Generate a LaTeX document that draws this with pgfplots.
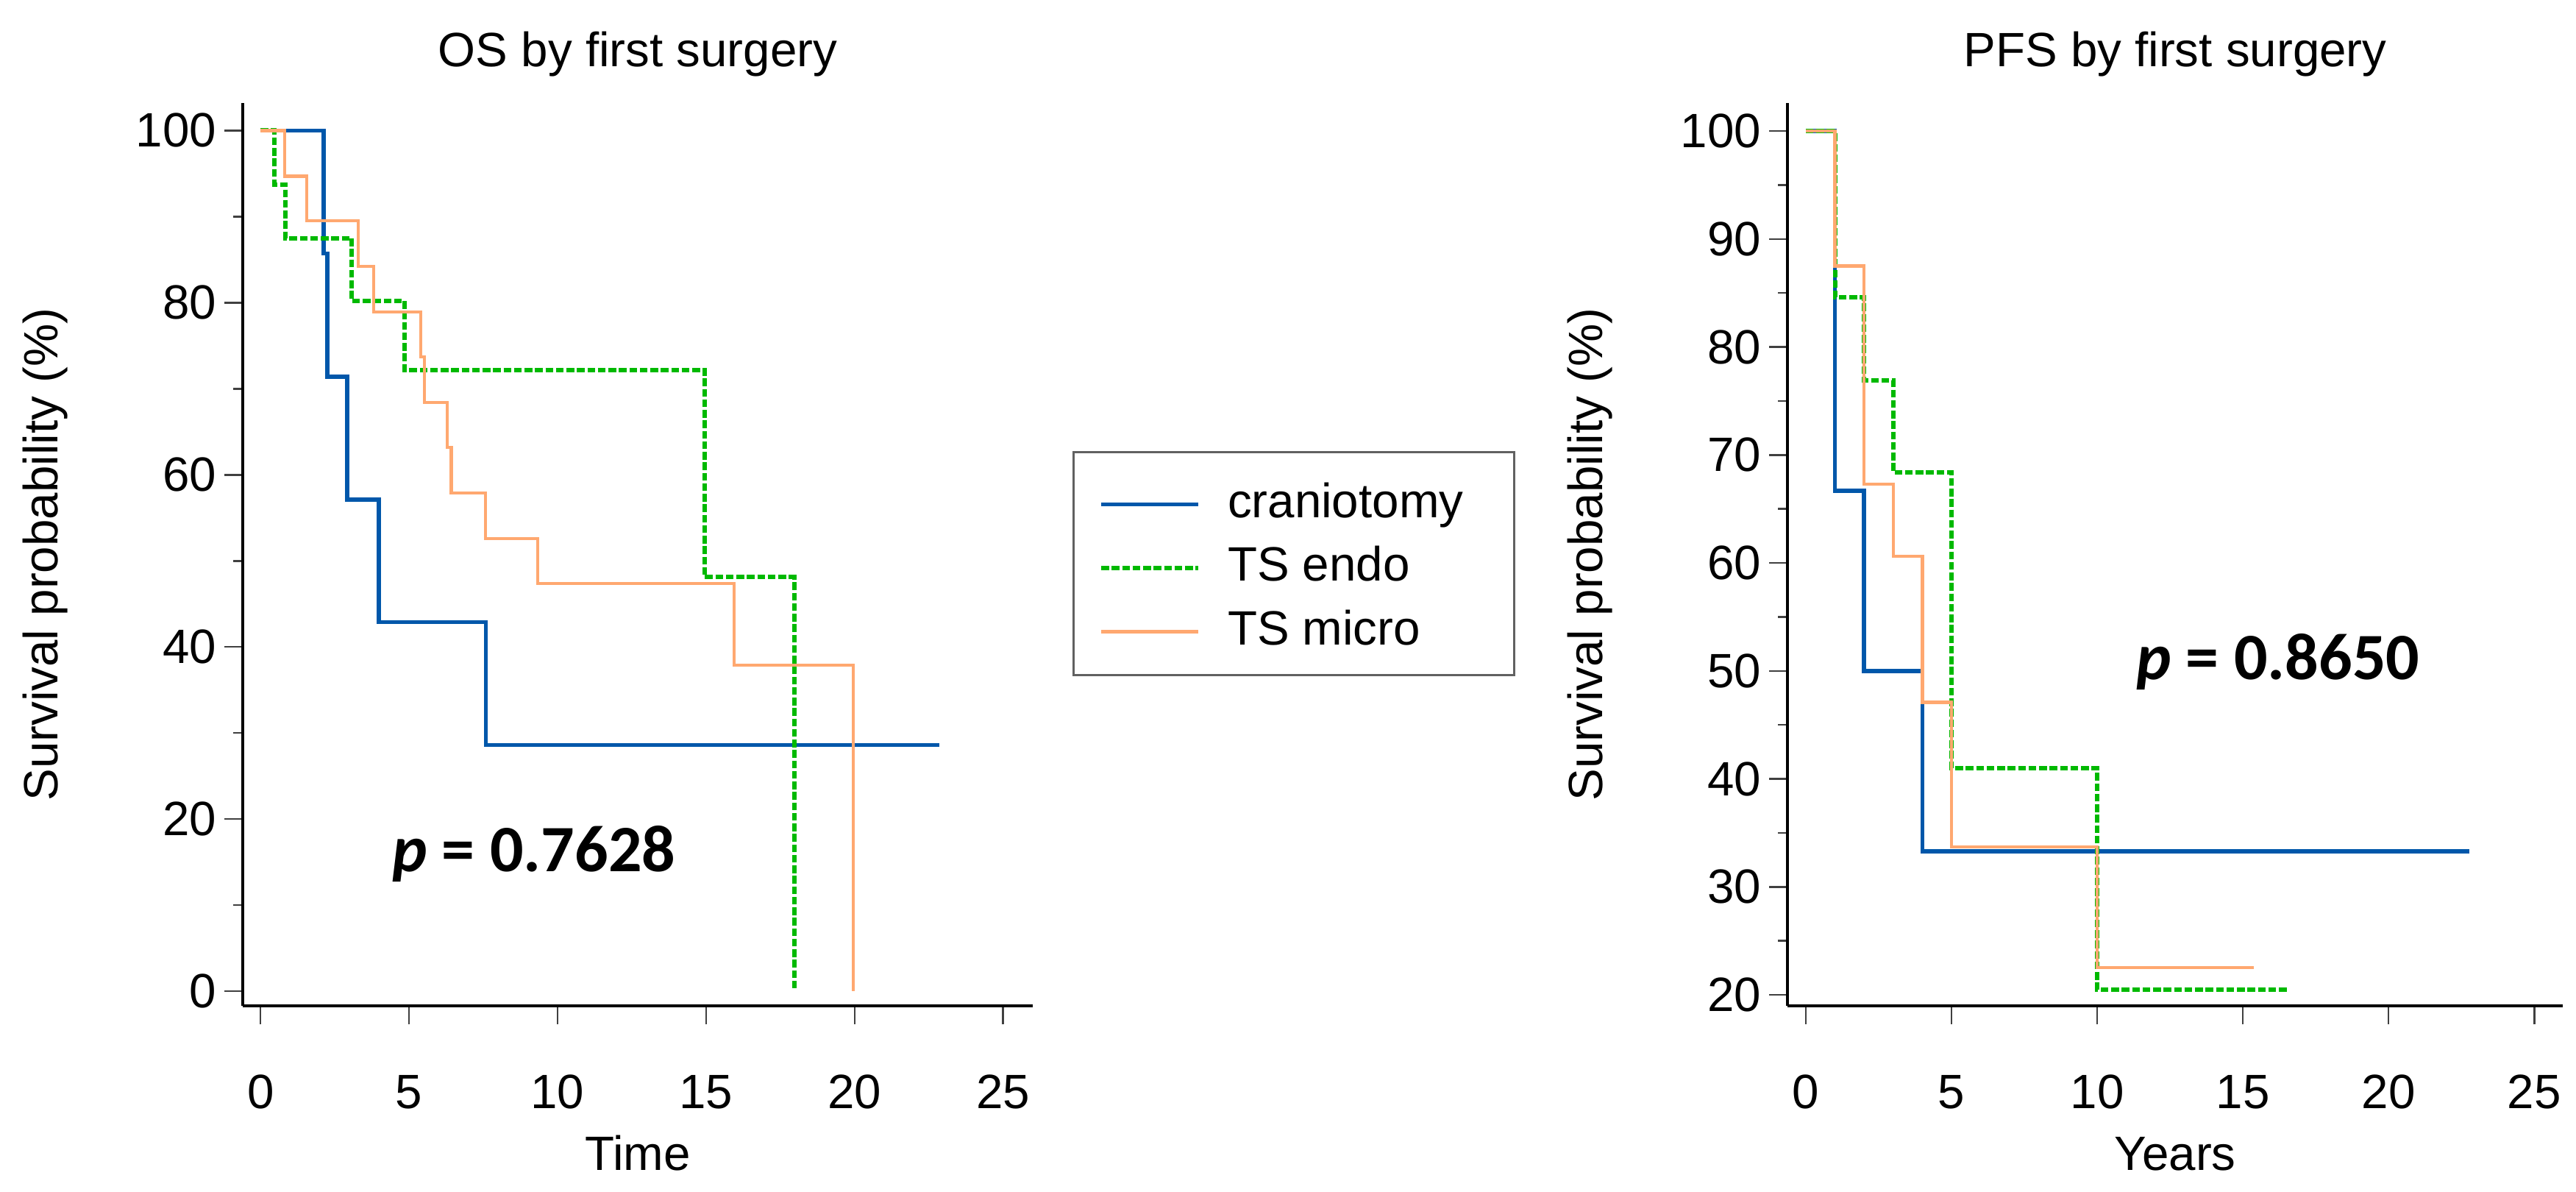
\documentclass[border=0pt]{standalone}
\usepackage{fontspec}
\setmainfont{Liberation Sans}
\newfontfamily\pfont{Carlito}
\usepackage{pgfplots}
\pgfplotsset{compat=1.18}

\definecolor{cranio}{RGB}{0,87,170}
\definecolor{endo}{RGB}{0,185,0}
\definecolor{micro}{RGB}{255,168,112}
\newcommand{\fsz}{\fontsize{13.1}{15.7}\selectfont}

\tikzset{pval/.style={anchor=base, font=\pfont\bfseries\fontsize{18}{21}\selectfont}}

\pgfplotsset{
  km/.style={
    scale only axis, height=245.4pt, anchor=south west,
    axis lines*=left, tick pos=left,
    axis line style={-, line width=0.8pt, black},
    tick align=outside, major tick length=5pt, minor tick length=2.6pt,
    tick style={black!75, line width=0.5pt},
    minor y tick num=1,
    xtick={0,5,...,25},
    tick label style={font=\fsz},
    /pgf/number format/assume math mode=true,
    xticklabel style={anchor=north, inner sep=0pt, yshift=-13.6pt},
    yticklabel style={anchor=east, inner sep=0pt, xshift=-2pt},
    every axis title/.style={at={([yshift=9.8pt]axis description cs:0.5,1)}, anchor=base, font=\fsz},
    every axis x label/.style={at={([yshift=-44.6pt]axis description cs:0.5,0)}, anchor=base, font=\fsz},
    every axis y label/.style={at={([xshift=-53.6pt]axis description cs:0,0.5)}, rotate=90, anchor=center, font=\fsz},
    ylabel={Survival probability (\%)},
    legend image code/.code={\draw[#1] (0pt,0pt) -- (26.4pt,0pt);},
  },
  cr/.style={cranio, line width=1.1pt, const plot},
  en/.style={endo, line width=1.2pt, dash pattern=on 2.1pt off 0.75pt, const plot},
  mi/.style={micro, line width=0.85pt, const plot},
}

\begin{document}
\begin{tikzpicture}
\useasboundingbox (0,0) rectangle (700.4pt,323.8pt);

% OS
\begin{axis}[km, at={(66pt,50.4pt)}, width=214.8pt,
    xmin=-0.6, xmax=26, ymin=-1.7, ymax=103.2,
    ytick={0,20,...,100},
    title={OS by first surgery}, xlabel={Time},
    legend style={draw=none, fill=none, at={(1.0838,0.5819)}, anchor=north west,
      inner sep=0pt, outer sep=0pt, row sep=4.3pt, column sep=7.4pt, font=\fsz,
      nodes={inner sep=0pt, text height=10pt, text depth=3pt}},
    legend cell align=left]
\addplot[cr] coordinates {(0,100) (2.13,85.7) (2.25,71.4) (2.92,57.1) (3.98,42.9) (7.59,28.6) (22.85,28.6)};
\addlegendentry{craniotomy}
\addplot[en] coordinates {(0,100) (0.47,93.75) (0.84,87.5) (3.07,80.2) (4.85,72.2) (14.95,48.1) (17.97,0)};
\addlegendentry{TS endo}
\addplot[mi] coordinates {(0,100) (0.82,94.7) (1.55,89.5) (3.28,84.2) (3.8,78.9) (5.39,73.7) (5.51,68.4) (6.28,63.2) (6.42,57.9) (7.57,52.6) (9.33,47.4) (15.94,37.9) (19.95,0)};
\addlegendentry{TS micro}
\node[pval] at (axis cs:9.2,13.9) {\textit{p} = 0.7628};
\end{axis}

% PFS
\begin{axis}[km, at={(486pt,50.4pt)}, width=210.8pt,
    xmin=-0.63, xmax=25.98, ymin=18.98, ymax=102.6,
    ytick={20,30,...,100},
    title={PFS by first surgery}, xlabel={Years}]
\addplot[cr] coordinates {(0,100) (1,66.7) (2,50) (4,33.3) (22.78,33.3)};
\addplot[en] coordinates {(0,100) (1,84.6) (2,76.9) (3,68.4) (5,41.0) (10,20.5) (16.54,20.5)};
\addplot[mi] coordinates {(0,100) (1,87.5) (2,67.3) (3,60.6) (4,47.1) (5,33.7) (10,22.5) (15.38,22.5)};
\node[pval] at (axis cs:16.2,49.2) {\textit{p} = 0.8650};
\end{axis}

\draw[line width=0.6pt, black!62] (291.8pt,200.8pt) rectangle (411.6pt,140.2pt);
\end{tikzpicture}
\end{document}
